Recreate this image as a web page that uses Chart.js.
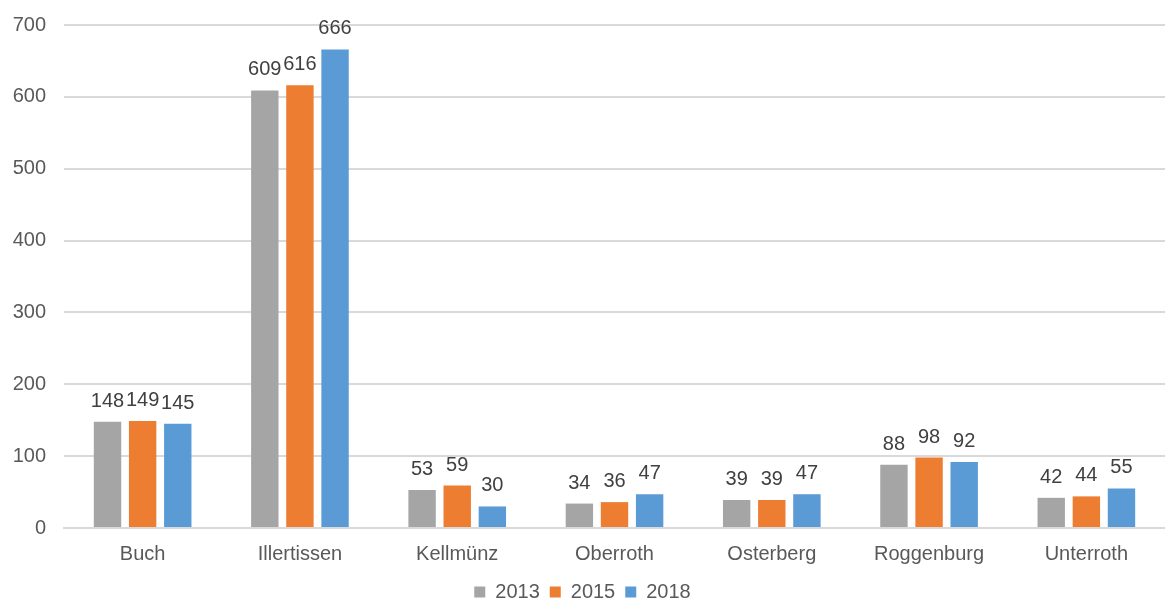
<!DOCTYPE html>
<html>
<head>
<meta charset="utf-8">
<script src="https://cdn.jsdelivr.net/npm/chart.js@4"></script>
<style>
  html, body { margin: 0; padding: 0; background: #fff; }
</style>
</head>
<body>
<canvas id="barChart" width="1165" height="599"></canvas>
<script>
const places = ['Buch', 'Illertissen', 'Kellmünz', 'Oberroth', 'Osterberg', 'Roggenburg', 'Unterroth'];
const years = ['2013', '2015', '2018'];
const values2013 = [148, 609, 53, 34, 39, 88, 42];
const values2015 = [149, 616, 59, 36, 39, 98, 44];
const values2018 = [145, 666, 30, 47, 47, 92, 55];
const yTicks = [0, 100, 200, 300, 400, 500, 600, 700];

const colors = ['#A5A5A5', '#ED7D31', '#5B9BD5'];
const font = '"Liberation Sans", Arial, sans-serif';

// numbers over each bar
const valueLabels = {
  id: 'valueLabels',
  afterDatasetsDraw(chart) {
    const ctx = chart.ctx;
    ctx.save();
    ctx.font = '20px ' + font;
    ctx.fillStyle = '#404040';
    ctx.textAlign = 'center';
    ctx.textBaseline = 'alphabetic';
    chart.data.datasets.forEach((ds, i) => {
      chart.getDatasetMeta(i).data.forEach((bar, j) => {
        ctx.fillText(ds.data[j], bar.x, bar.y - 15);
      });
    });
    ctx.restore();
  }
};

const barCanvas = document.getElementById('barChart').getContext('2d');

new Chart(barCanvas, {
  type: 'bar',
  data: {
    labels: places,
    datasets: [values2013, values2015, values2018].map((d, i) => ({
      label: years[i],
      data: d,
      backgroundColor: colors[i],
      barPercentage: 0.78,
      categoryPercentage: 0.67
    }))
  },
  options: {
    responsive: false,
    animation: false,
    layout: { padding: { top: 25, right: 0, left: 0, bottom: -13 } },
    scales: {
      x: {
        grid: { display: false },
        border: { color: '#D9D9D9', width: 2 },
        ticks: { color: '#595959', font: { family: font, size: 20 }, padding: 6, maxRotation: 0, autoSkip: false }
      },
      y: {
        min: 0,
        max: 700,
        afterBuildTicks: axis => { axis.ticks = yTicks.map(v => ({ value: v })); },
        afterFit: axis => { axis.width = 64; axis.paddingTop = 0; axis.paddingBottom = 0; },
        border: { display: false },
        grid: { color: '#D9D9D9', lineWidth: 2, drawTicks: false },
        ticks: { color: '#595959', font: { family: font, size: 20 }, padding: 18 }
      }
    },
    plugins: {
      legend: {
        position: 'bottom',
        labels: {
          color: '#595959',
          font: { family: font, size: 20 },
          boxWidth: 11,
          boxHeight: 11,
          padding: 10
        }
      },
      tooltip: { enabled: false }
    }
  },
  plugins: [valueLabels]
});
</script>
</body>
</html>
